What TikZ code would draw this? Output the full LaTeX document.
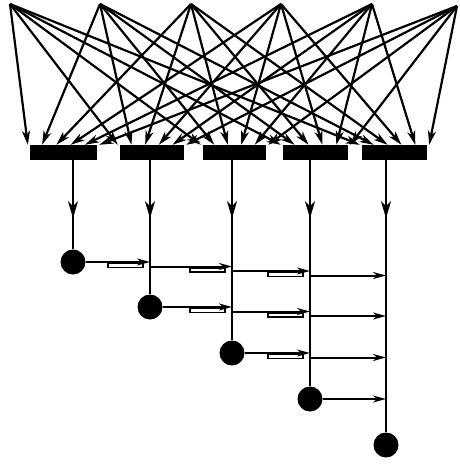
\documentclass[tikz,border=0pt]{standalone}
\usetikzlibrary{arrows.meta,calc}
\newcommand\hseg[4]{\draw[harrow] ($(c#1 -| c#2)+(0,#4)$) -- ($(c#1 -| c#3)+(0,#4)$);}
\newcommand\hdelay[3]{\draw[delaybox] ($(c#1 -| c#2)+(-42,#3+1.5)$) rectangle ($(c#1 -| c#2)+(-7,#3+5.5)$);}
\begin{document}
\begin{tikzpicture}[x=1pt,y=-1pt]
\tikzset{
  barbox/.style={fill=black,draw=none,minimum height=15pt,inner sep=0pt},
  pe/.style={circle,fill=black,minimum size=25pt,inner sep=0pt},
  feedarrow/.style={draw=black,line width=2.2pt,-{Stealth[length=14pt,width=8pt,inset=4pt]}},
  varrow/.style={draw=black,line width=2.2pt,-{Stealth[length=17pt,width=10pt,inset=5pt]}},
  vtail/.style={draw=black,line width=2.2pt},
  harrow/.style={draw=black,line width=2pt,-{Stealth[length=13pt,width=7pt,inset=4pt]}},
  delaybox/.style={draw=black,line width=1.4pt}}
\useasboundingbox (0,0) rectangle (459,464);
% sources
\coordinate (s1) at (10,4);
\coordinate (s2) at (100,4);
\coordinate (s3) at (191,4);
\coordinate (s4) at (281,4);
\coordinate (s5) at (372,4);
\coordinate (s6) at (457,6);
% bars
\node[barbox,minimum width=67pt] (b1) at (63.5,152.5) {};
\node[barbox,minimum width=64pt] (b2) at (152,152.5) {};
\node[barbox,minimum width=63pt] (b3) at (234.5,152.5) {};
\node[barbox,minimum width=65pt] (b4) at (315.5,152.5) {};
\node[barbox,minimum width=65pt] (b5) at (394.5,152.5) {};
% cells
\node[pe] (c1) at (73,262) {};
\node[pe] (c2) at (150,307) {};
\node[pe] (c3) at (232,353) {};
\node[pe] (c4) at (310,399) {};
\node[pe] (c5) at (386,445) {};
% fan-in arrows
\foreach \s [count=\k from 0, evaluate=\k as \f using \k/5] in {s1,s2,s3,s4,s5,s6}
  \foreach \b in {b1,b2,b3,b4,b5}
    \draw[feedarrow] (\s) -- ($($(\b.north west)+(-2,0)$)!\f!($(\b.north east)+(2,0)$)$);
% vertical lines
\foreach \j in {1,...,5}{
  \coordinate (m\j) at ($(c\j |- b\j.south)+(0,58)$);
  \draw[vtail] (c\j |- b\j.south) -- (c\j.north);
  \draw[varrow] (c\j |- b\j.south) -- (m\j);
}
% row 1
\draw[harrow] (c1.east) -- (c1 -| c2);
\hdelay{1}{2}{0}
\hseg{1}{2}{3}{4.5}
\hdelay{1}{3}{4.5}
\hseg{1}{3}{4}{9}
\hdelay{1}{4}{9}
\hseg{1}{4}{5}{13.5}
% row 2
\draw[harrow] (c2.east) -- (c2 -| c3);
\hdelay{2}{3}{0}
\hseg{2}{3}{4}{4.5}
\hdelay{2}{4}{4.5}
\hseg{2}{4}{5}{9}
% row 3
\draw[harrow] (c3.east) -- (c3 -| c4);
\hdelay{3}{4}{0}
\hseg{3}{4}{5}{4.5}
% row 4
\draw[harrow] (c4.east) -- (c4 -| c5);
\end{tikzpicture}
\end{document}
